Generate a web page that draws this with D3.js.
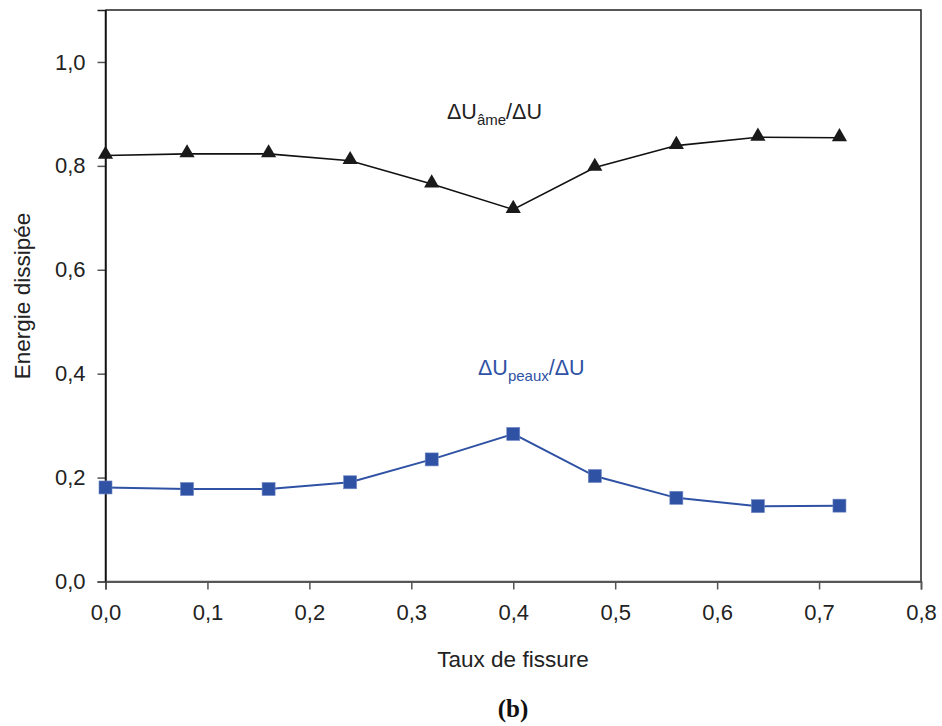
<!DOCTYPE html>
<html><head><meta charset="utf-8">
<script src="https://cdn.jsdelivr.net/npm/d3@7"></script>
<style>body{margin:0;background:#fff}svg{display:block}</style>
</head><body>
<script>
const taux = [0, 0.08, 0.16, 0.24, 0.32, 0.40, 0.48, 0.56, 0.64, 0.72];
const ame = [0.820, 0.823, 0.823, 0.810, 0.765, 0.716, 0.797, 0.839, 0.855, 0.854];
const peaux = [0.181, 0.178, 0.178, 0.191, 0.235, 0.284, 0.203, 0.161, 0.145, 0.146];
const xTicks = [0, 0.1, 0.2, 0.3, 0.4, 0.5, 0.6, 0.7, 0.8];
const yTicks = [0, 0.2, 0.4, 0.6, 0.8, 1.0];

const W = 942, H = 726;
const L = 105.5, R = 921, T = 10, B = 581.5;
const svg = d3.select("body").append("svg").attr("width", W).attr("height", H);
const x = d3.scaleLinear().domain([0, 0.8]).range([L, R]);
const y = d3.scaleLinear().domain([0, 1.1]).range([B, T]);
const fmt = d => d3.format(".1f")(d).replace(".", ",");
const font = "Liberation Sans, Arial, sans-serif";

// frame top/right
svg.append("path").attr("d", `M${L},${T}H${R}V${B}`).attr("fill","none").attr("stroke","#222").attr("stroke-width",1.5);

const xa = svg.append("g").attr("transform", `translate(0,${B})`)
  .call(d3.axisBottom(x).tickValues(xTicks).tickFormat(fmt).tickSize(8).tickPadding(15));
const ya = svg.append("g").attr("transform", `translate(${L},0)`)
  .call(d3.axisLeft(y).tickValues(yTicks).tickFormat(fmt).tickSize(8).tickPadding(12));
[xa, ya].forEach(a => {
  a.select(".domain").attr("stroke","#222").attr("stroke-width",1.5);
  a.selectAll(".tick line").attr("stroke","#555").attr("stroke-width",1.5);
  a.selectAll("text").attr("font-family", font).attr("font-size", 22).attr("fill","#222");
});
svg.append("line").attr("x1",L).attr("x2",R).attr("y1",B).attr("y2",B).attr("stroke","#555").attr("stroke-width",1.5);
svg.append("line").attr("x1",L).attr("x2",L).attr("y1",T).attr("y2",B).attr("stroke","#111").attr("stroke-width",1.5);

const line = d3.line().x((d,i)=>x(taux[i])).y(d=>y(d));
const blue = "#2f52a4";
svg.append("path").datum(ame).attr("d", line).attr("fill","none").attr("stroke","#111").attr("stroke-width",1.6);
svg.append("path").datum(peaux).attr("d", line).attr("fill","none").attr("stroke",blue).attr("stroke-width",2);

const tri = d3.symbol().type(d3.symbolTriangle).size(100);
svg.selectAll(".tri").data(ame).join("path").attr("d", tri)
  .attr("transform",(d,i)=>`translate(${x(taux[i])},${y(d)-1})`).attr("fill","#1a1a1a");
svg.selectAll(".sq").data(peaux).join("rect")
  .attr("x",(d,i)=>x(taux[i])-6.5).attr("y",d=>y(d)-6.5).attr("width",13).attr("height",13)
  .attr("fill",blue).attr("stroke","#6f86c4").attr("stroke-width",0.6);

// series labels
const t1 = svg.append("text").attr("x",447).attr("y",119).attr("font-family",font).attr("font-size",21.5).attr("fill","#222");
t1.append("tspan").text("ΔU");
t1.append("tspan").attr("font-size",15).attr("dy",6).text("âme");
t1.append("tspan").attr("dy",-6).text("/ΔU");
const t2 = svg.append("text").attr("x",478).attr("y",375).attr("font-family",font).attr("font-size",21.5).attr("fill",blue);
t2.append("tspan").text("ΔU");
t2.append("tspan").attr("font-size",15).attr("dy",6).text("peaux");
t2.append("tspan").attr("dy",-6).text("/ΔU");

// axis titles
svg.append("text").attr("x",513).attr("y",667).attr("text-anchor","middle").attr("font-family",font).attr("font-size",22.5).attr("fill","#222").text("Taux de fissure");
svg.append("text").attr("transform","translate(30,296) rotate(-90)").attr("text-anchor","middle").attr("font-family",font).attr("font-size",22.5).attr("fill","#222").text("Energie dissipée");
svg.append("text").attr("x",513).attr("y",717).attr("text-anchor","middle").attr("font-family","Liberation Serif, Times New Roman, serif").attr("font-weight","bold").attr("font-size",25).attr("fill","#111").text("(b)");
</script>
</body></html>
